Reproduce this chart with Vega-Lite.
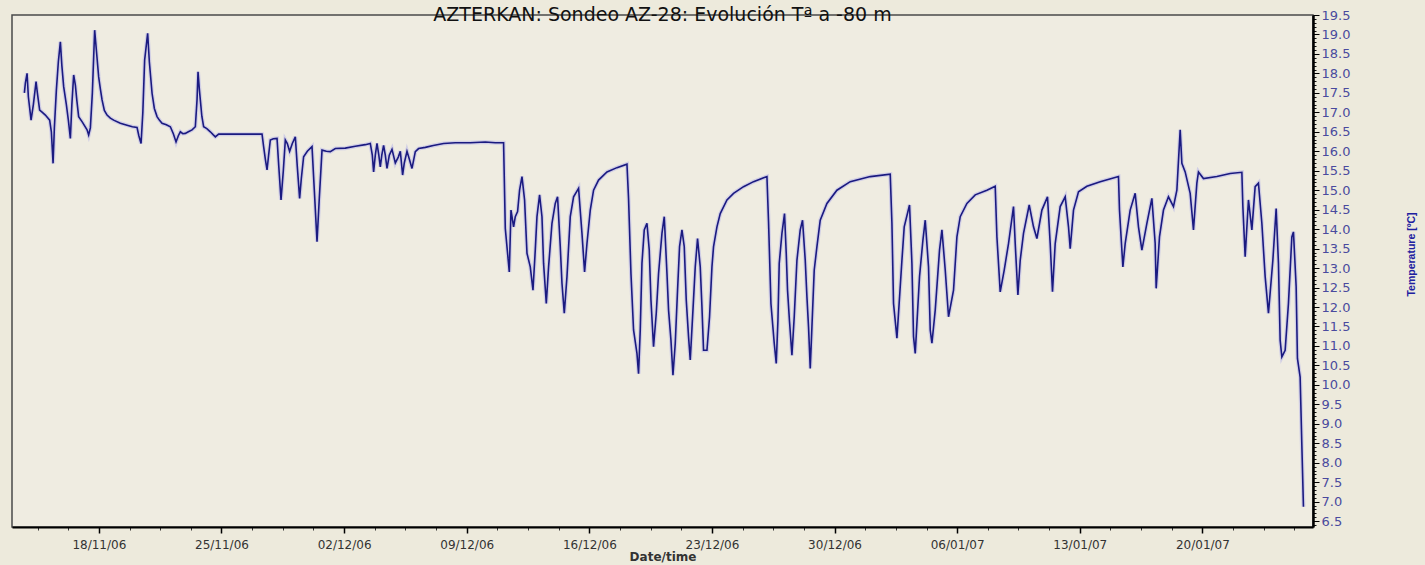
{
"$schema": "https://vega.github.io/schema/vega-lite/v6.json",
"width": 1301, "height": 512,
"autosize": {"type": "none"},
"padding": {"left": 12, "top": 15, "right": 112, "bottom": 38},
"background": "#EDEADC",
"config": {"view": {"fill": "#EFECE1", "stroke": "#4a4a4a", "strokeWidth": 1.5}},
"title": {"text": "AZTERKAN: Sondeo AZ-28: Evolución Tª a -80 m", "font": "DejaVu Sans", "fontSize": 19, "fontWeight": "normal", "color": "#111111", "anchor": "middle", "frame": "group", "baseline": "alphabetic", "offset": 3, "dy": 34},
"data": {"values": [
{"t":"2006-11-13T17:57","v":17.5},{"t":"2006-11-13T19:19","v":17.75},{"t":"2006-11-13T21:38","v":18.0},{"t":"2006-11-13T23:25","v":17.4},
{"t":"2006-11-14T03:07","v":16.8},{"t":"2006-11-14T06:16","v":17.2},{"t":"2006-11-14T09:58","v":17.79},{"t":"2006-11-14T11:45","v":17.5},
{"t":"2006-11-14T14:54","v":17.06},{"t":"2006-11-14T18:36","v":17.0},{"t":"2006-11-14T22:43","v":16.93},{"t":"2006-11-15T04:36","v":16.8},
{"t":"2006-11-15T06:56","v":16.5},{"t":"2006-11-15T09:16","v":15.69},{"t":"2006-11-15T11:02","v":16.6},{"t":"2006-11-15T13:47","v":17.57},
{"t":"2006-11-15T16:31","v":18.3},{"t":"2006-11-15T19:16","v":18.81},{"t":"2006-11-15T21:19","v":18.2},{"t":"2006-11-15T23:47","v":17.66},
{"t":"2006-11-16T03:29","v":17.2},{"t":"2006-11-16T06:13","v":16.8},{"t":"2006-11-16T08:58","v":16.33},{"t":"2006-11-16T11:01","v":17.2},
{"t":"2006-11-16T13:29","v":17.96},{"t":"2006-11-16T15:49","v":17.7},{"t":"2006-11-16T17:52","v":17.3},{"t":"2006-11-16T20:20","v":16.89},
{"t":"2006-11-17T01:24","v":16.75},{"t":"2006-11-17T07:50","v":16.55},{"t":"2006-11-17T10:02","v":16.42},{"t":"2006-11-17T12:22","v":16.6},
{"t":"2006-11-17T15:06","v":17.5},{"t":"2006-11-17T18:15","v":19.11},{"t":"2006-11-17T20:35","v":18.6},{"t":"2006-11-17T23:44","v":17.91},
{"t":"2006-11-18T02:03","v":17.6},{"t":"2006-11-18T04:23","v":17.32},{"t":"2006-11-18T07:32","v":17.05},{"t":"2006-11-18T11:14","v":16.93},
{"t":"2006-11-18T15:45","v":16.85},{"t":"2006-11-18T20:16","v":16.8},{"t":"2006-11-19T05:27","v":16.72},{"t":"2006-11-19T14:38","v":16.67},
{"t":"2006-11-19T21:53","v":16.63},{"t":"2006-11-20T04:20","v":16.61},{"t":"2006-11-20T06:47","v":16.4},{"t":"2006-11-20T09:49","v":16.2},
{"t":"2006-11-20T12:16","v":17.0},{"t":"2006-11-20T14:44","v":18.34},{"t":"2006-11-20T18:51","v":19.03},{"t":"2006-11-20T21:11","v":18.3},
{"t":"2006-11-21T00:53","v":17.49},{"t":"2006-11-21T04:02","v":17.1},{"t":"2006-11-21T07:44","v":16.89},{"t":"2006-11-21T10:53","v":16.8},
{"t":"2006-11-21T14:34","v":16.72},{"t":"2006-11-21T20:28","v":16.68},{"t":"2006-11-22T01:57","v":16.63},{"t":"2006-11-22T06:03","v":16.45},
{"t":"2006-11-22T09:45","v":16.24},{"t":"2006-11-22T12:54","v":16.4},{"t":"2006-11-22T15:38","v":16.5},{"t":"2006-11-22T19:04","v":16.45},
{"t":"2006-11-22T22:29","v":16.46},{"t":"2006-11-23T02:36","v":16.5},{"t":"2006-11-23T07:40","v":16.55},{"t":"2006-11-23T12:11","v":16.63},
{"t":"2006-11-23T14:31","v":17.32},{"t":"2006-11-23T15:53","v":18.04},{"t":"2006-11-23T17:40","v":17.6},{"t":"2006-11-23T19:02","v":17.32},
{"t":"2006-11-23T21:06","v":16.9},{"t":"2006-11-23T23:34","v":16.63},{"t":"2006-11-24T03:56","v":16.58},{"t":"2006-11-24T08:44","v":16.5},
{"t":"2006-11-24T12:51","v":16.42},{"t":"2006-11-24T15:35","v":16.37},{"t":"2006-11-24T20:07","v":16.44},{"t":"2006-11-26T01:50","v":16.44},
{"t":"2006-11-27T07:34","v":16.44},
{"t":"2006-11-27T09:45","v":16.12},{"t":"2006-11-27T12:05","v":15.8},{"t":"2006-11-27T14:25","v":15.52},{"t":"2006-11-27T16:36","v":15.9},
{"t":"2006-11-27T18:56","v":16.29},{"t":"2006-11-27T23:02","v":16.32},{"t":"2006-11-28T04:07","v":16.33},{"t":"2006-11-28T06:34","v":15.6},
{"t":"2006-11-28T09:35","v":14.75},{"t":"2006-11-28T12:44","v":15.5},{"t":"2006-11-28T15:29","v":16.29},{"t":"2006-11-28T18:13","v":16.2},
{"t":"2006-11-28T21:22","v":16.0},{"t":"2006-11-29T01:04","v":16.2},{"t":"2006-11-29T05:11","v":16.37},{"t":"2006-11-29T07:55","v":15.6},
{"t":"2006-11-29T11:04","v":14.79},{"t":"2006-11-29T13:24","v":15.3},{"t":"2006-11-29T16:33","v":15.86},{"t":"2006-11-29T21:37","v":16.0},
{"t":"2006-11-30T04:03","v":16.12},{"t":"2006-11-30T07:13","v":15.0},{"t":"2006-11-30T10:54","v":13.68},{"t":"2006-11-30T14:03","v":14.8},
{"t":"2006-11-30T17:45","v":16.03},{"t":"2006-11-30T23:38","v":16.0},{"t":"2006-12-01T05:07","v":15.99},{"t":"2006-12-01T11:58","v":16.07},
{"t":"2006-12-02T01:40","v":16.08},{"t":"2006-12-02T15:22","v":16.13},{"t":"2006-12-03T05:04","v":16.17},{"t":"2006-12-03T11:55","v":16.2},
{"t":"2006-12-03T14:40","v":15.9},{"t":"2006-12-03T16:26","v":15.47},{"t":"2006-12-03T18:46","v":15.9},{"t":"2006-12-03T21:05","v":16.2},
{"t":"2006-12-03T23:34","v":15.9},{"t":"2006-12-04T01:37","v":15.6},{"t":"2006-12-04T03:40","v":15.9},{"t":"2006-12-04T06:08","v":16.15},
{"t":"2006-12-04T08:28","v":15.9},{"t":"2006-12-04T10:47","v":15.56},{"t":"2006-12-04T13:57","v":15.9},{"t":"2006-12-04T17:38","v":16.05},
{"t":"2006-12-04T22:10","v":15.7},{"t":"2006-12-05T02:16","v":15.85},{"t":"2006-12-05T05:01","v":16.0},{"t":"2006-12-05T08:10","v":15.39},
{"t":"2006-12-05T10:29","v":15.7},{"t":"2006-12-05T14:11","v":16.0},{"t":"2006-12-05T17:20","v":15.8},{"t":"2006-12-05T21:02","v":15.56},
{"t":"2006-12-06T01:34","v":15.99},{"t":"2006-12-06T06:05","v":16.07},{"t":"2006-12-06T15:16","v":16.1},{"t":"2006-12-07T02:13","v":16.15},
{"t":"2006-12-07T16:20","v":16.2},{"t":"2006-12-08T08:22","v":16.22},{"t":"2006-12-09T04:54","v":16.22},{"t":"2006-12-10T01:27","v":16.24},
{"t":"2006-12-10T15:09","v":16.22},{"t":"2006-12-11T02:31","v":16.22},
{"t":"2006-12-11T04:51","v":14.02},{"t":"2006-12-11T10:20","v":12.9},{"t":"2006-12-11T12:40","v":14.49},{"t":"2006-12-11T16:13","v":14.06},
{"t":"2006-12-11T18:33","v":14.32},{"t":"2006-12-11T21:42","v":14.45},{"t":"2006-12-12T00:26","v":15.0},{"t":"2006-12-12T03:44","v":15.35},
{"t":"2006-12-12T07:17","v":14.75},{"t":"2006-12-12T10:35","v":13.38},{"t":"2006-12-12T15:05","v":13.03},{"t":"2006-12-12T18:47","v":12.43},
{"t":"2006-12-12T21:56","v":13.46},{"t":"2006-12-13T00:16","v":14.32},{"t":"2006-12-13T03:50","v":14.88},{"t":"2006-12-13T07:07","v":14.32},
{"t":"2006-12-13T09:19","v":13.12},{"t":"2006-12-13T13:01","v":12.09},{"t":"2006-12-13T16:10","v":13.03},{"t":"2006-12-13T20:49","v":14.15},
{"t":"2006-12-14T01:20","v":14.66},{"t":"2006-12-14T04:29","v":14.83},{"t":"2006-12-14T08:11","v":13.55},{"t":"2006-12-14T10:31","v":12.61},
{"t":"2006-12-14T13:40","v":11.84},{"t":"2006-12-14T17:22","v":12.78},{"t":"2006-12-14T21:53","v":14.32},{"t":"2006-12-15T02:25","v":14.83},
{"t":"2006-12-15T09:16","v":15.05},{"t":"2006-12-15T13:55","v":13.89},{"t":"2006-12-15T17:29","v":12.9},{"t":"2006-12-15T20:46","v":13.63},
{"t":"2006-12-16T01:17","v":14.49},{"t":"2006-12-16T05:48","v":15.0},{"t":"2006-12-16T12:39","v":15.26},{"t":"2006-12-17T00:10","v":15.47},
{"t":"2006-12-17T13:51","v":15.58},{"t":"2006-12-18T03:33","v":15.67},{"t":"2006-12-18T05:44","v":14.79},{"t":"2006-12-18T09:02","v":12.86},
{"t":"2006-12-18T12:35","v":11.41},{"t":"2006-12-18T17:15","v":10.81},{"t":"2006-12-18T19:26","v":10.29},{"t":"2006-12-18T21:46","v":11.41},
{"t":"2006-12-19T00:06","v":13.12},{"t":"2006-12-19T03:15","v":13.98},{"t":"2006-12-19T06:57","v":14.15},{"t":"2006-12-19T10:06","v":13.46},
{"t":"2006-12-19T12:26","v":12.18},{"t":"2006-12-19T15:59","v":10.98},{"t":"2006-12-19T19:42","v":11.84},{"t":"2006-12-19T22:51","v":12.86},
{"t":"2006-12-20T03:31","v":13.89},{"t":"2006-12-20T06:40","v":14.32},{"t":"2006-12-20T10:22","v":12.86},{"t":"2006-12-20T12:33","v":11.92},
{"t":"2006-12-20T15:50","v":11.15},{"t":"2006-12-20T18:35","v":10.25},{"t":"2006-12-20T21:44","v":11.07},{"t":"2006-12-21T00:52","v":12.43},
{"t":"2006-12-21T03:37","v":13.55},{"t":"2006-12-21T06:54","v":13.98},{"t":"2006-12-21T10:03","v":13.55},{"t":"2006-12-21T12:47","v":12.18},
{"t":"2006-12-21T15:56","v":11.24},{"t":"2006-12-21T18:16","v":10.64},{"t":"2006-12-21T21:58","v":11.92},{"t":"2006-12-22T01:07","v":13.03},
{"t":"2006-12-22T04:16","v":13.76},{"t":"2006-12-22T07:58","v":13.03},{"t":"2006-12-22T10:18","v":12.0},{"t":"2006-12-22T12:29","v":10.89},
{"t":"2006-12-22T17:09","v":10.89},{"t":"2006-12-22T20:43","v":11.75},{"t":"2006-12-23T00:00","v":13.03},{"t":"2006-12-23T02:11","v":13.55},
{"t":"2006-12-23T06:51","v":14.06},{"t":"2006-12-23T11:22","v":14.4},{"t":"2006-12-23T20:33","v":14.75},{"t":"2006-12-24T05:35","v":14.92},
{"t":"2006-12-24T19:17","v":15.09},{"t":"2006-12-25T08:59","v":15.22},{"t":"2006-12-26T03:20","v":15.35},{"t":"2006-12-26T05:32","v":14.19},
{"t":"2006-12-26T08:49","v":12.09},{"t":"2006-12-26T13:20","v":11.07},{"t":"2006-12-26T16:05","v":10.55},{"t":"2006-12-26T18:25","v":11.66},
{"t":"2006-12-26T20:11","v":13.12},{"t":"2006-12-26T23:53","v":13.89},{"t":"2006-12-27T03:26","v":14.4},{"t":"2006-12-27T05:47","v":13.38},
{"t":"2006-12-27T07:34","v":12.43},{"t":"2006-12-27T10:18","v":11.62},{"t":"2006-12-27T13:35","v":10.76},{"t":"2006-12-27T16:44","v":11.75},
{"t":"2006-12-27T20:26","v":13.2},{"t":"2006-12-28T00:57","v":13.98},{"t":"2006-12-28T04:07","v":14.23},{"t":"2006-12-28T07:49","v":13.2},
{"t":"2006-12-28T10:08","v":12.26},{"t":"2006-12-28T12:20","v":11.49},{"t":"2006-12-28T14:40","v":10.42},{"t":"2006-12-28T16:59","v":11.49},
{"t":"2006-12-28T20:08","v":12.95},{"t":"2006-12-28T23:50","v":13.55},{"t":"2006-12-29T04:21","v":14.23},{"t":"2006-12-29T13:32","v":14.66},
{"t":"2006-12-30T03:14","v":15.0},{"t":"2006-12-30T21:28","v":15.22},{"t":"2007-01-01T00:52","v":15.35},{"t":"2007-01-02T04:16","v":15.41},
{"t":"2007-01-02T06:35","v":14.15},{"t":"2007-01-02T08:47","v":12.09},{"t":"2007-01-02T13:26","v":11.2},{"t":"2007-01-02T20:17","v":13.2},
{"t":"2007-01-02T23:26","v":14.06},{"t":"2007-01-03T06:42","v":14.62},{"t":"2007-01-03T09:59","v":13.12},{"t":"2007-01-03T12:11","v":11.24},
{"t":"2007-01-03T14:31","v":10.81},{"t":"2007-01-03T20:24","v":12.78},{"t":"2007-01-04T01:04","v":13.72},{"t":"2007-01-04T04:13","v":14.23},
{"t":"2007-01-04T08:44","v":13.03},{"t":"2007-01-04T11:04","v":11.41},{"t":"2007-01-04T13:23","v":11.07},{"t":"2007-01-04T17:55","v":11.92},
{"t":"2007-01-04T23:48","v":13.46},{"t":"2007-01-05T03:05","v":13.98},{"t":"2007-01-05T07:37","v":12.95},{"t":"2007-01-05T12:08","v":11.75},
{"t":"2007-01-05T18:59","v":12.43},{"t":"2007-01-05T23:38","v":13.8},{"t":"2007-01-06T04:09","v":14.32},{"t":"2007-01-06T13:20","v":14.66},
{"t":"2007-01-07T00:42","v":14.88},{"t":"2007-01-07T16:44","v":15.0},{"t":"2007-01-08T04:06","v":15.1},{"t":"2007-01-08T06:26","v":13.8},
{"t":"2007-01-08T10:57","v":12.39},{"t":"2007-01-08T16:26","v":12.95},{"t":"2007-01-08T22:19","v":13.63},{"t":"2007-01-09T05:10","v":14.58},
{"t":"2007-01-09T07:30","v":13.63},{"t":"2007-01-09T11:12","v":12.31},{"t":"2007-01-09T14:21","v":13.2},{"t":"2007-01-09T18:52","v":13.89},
{"t":"2007-01-10T02:41","v":14.62},{"t":"2007-01-10T08:33","v":14.06},{"t":"2007-01-10T13:13","v":13.76},{"t":"2007-01-10T20:04","v":14.49},
{"t":"2007-01-11T03:44","v":14.83},{"t":"2007-01-11T07:26","v":13.63},{"t":"2007-01-11T10:35","v":12.39},{"t":"2007-01-11T14:17","v":13.63},
{"t":"2007-01-11T21:08","v":14.58},{"t":"2007-01-12T03:59","v":14.83},{"t":"2007-01-12T08:31","v":14.06},{"t":"2007-01-12T10:50","v":13.5},
{"t":"2007-01-12T15:22","v":14.49},{"t":"2007-01-12T22:13","v":14.96},{"t":"2007-01-13T09:43","v":15.1},{"t":"2007-01-14T03:56","v":15.22},
{"t":"2007-01-15T04:59","v":15.35},{"t":"2007-01-15T06:22","v":14.49},{"t":"2007-01-15T11:01","v":13.03},{"t":"2007-01-15T14:10","v":13.63},
{"t":"2007-01-15T21:01","v":14.49},{"t":"2007-01-16T03:52","v":14.92},{"t":"2007-01-16T08:23","v":14.06},{"t":"2007-01-16T13:03","v":13.46},
{"t":"2007-01-16T19:54","v":14.15},{"t":"2007-01-17T02:45","v":14.79},{"t":"2007-01-17T07:16","v":13.63},{"t":"2007-01-17T08:38","v":12.48},
{"t":"2007-01-17T13:10","v":13.8},{"t":"2007-01-17T18:38","v":14.49},{"t":"2007-01-18T01:29","v":14.83},{"t":"2007-01-18T08:20","v":14.58},
{"t":"2007-01-18T12:59","v":15.0},{"t":"2007-01-18T17:31","v":16.55},{"t":"2007-01-18T19:50","v":15.69},{"t":"2007-01-19T00:22","v":15.47},
{"t":"2007-01-19T07:13","v":14.92},{"t":"2007-01-19T11:44","v":13.98},{"t":"2007-01-19T16:23","v":15.18},{"t":"2007-01-19T18:35","v":15.47},
{"t":"2007-01-20T01:26","v":15.3},{"t":"2007-01-20T19:47","v":15.35},{"t":"2007-01-21T14:00","v":15.43},{"t":"2007-01-22T06:02","v":15.46},
{"t":"2007-01-22T07:24","v":14.58},{"t":"2007-01-22T10:33","v":13.29},{"t":"2007-01-22T15:04","v":14.75},{"t":"2007-01-22T19:44","v":13.98},
{"t":"2007-01-23T00:15","v":15.09},{"t":"2007-01-23T04:46","v":15.18},{"t":"2007-01-23T09:26","v":14.15},{"t":"2007-01-23T13:57","v":12.78},
{"t":"2007-01-23T18:28","v":11.84},{"t":"2007-01-24T00:30","v":13.2},{"t":"2007-01-24T05:01","v":14.53},{"t":"2007-01-24T08:10","v":13.12},
{"t":"2007-01-24T10:29","v":11.15},{"t":"2007-01-24T12:49","v":10.72},{"t":"2007-01-24T17:20","v":10.89},{"t":"2007-01-24T21:52","v":12.09},
{"t":"2007-01-25T02:31","v":13.8},{"t":"2007-01-25T04:43","v":13.93},{"t":"2007-01-25T08:25","v":12.52},{"t":"2007-01-25T10:11","v":10.68},
{"t":"2007-01-25T13:53","v":10.2},{"t":"2007-01-25T16:13","v":8.45},{"t":"2007-01-25T18:25","v":6.87}
]},
"layer": [
{
"mark": {"type": "line", "color": "#bdbbe8", "strokeWidth": 4, "opacity": 0.6},
"encoding": {
"x": {"field": "t", "type": "temporal",
"scale": {"domain": [{"year": 2006, "month": "nov", "date": 13, "hours": 1}, {"year": 2007, "month": "jan", "date": 26, "hours": 7, "minutes": 30}], "nice": false},
"axis": {"orient": "bottom", "title": null, "labels": false, "domain": false, "grid": false, "tickSize": 3, "tickColor": "#333333",
"values": [
{"year":2006,"month":"nov","date":14,"hours":12},{"year":2006,"month":"nov","date":16,"hours":6},{"year":2006,"month":"nov","date":19,"hours":18},{"year":2006,"month":"nov","date":21,"hours":12},{"year":2006,"month":"nov","date":23,"hours":6},
{"year":2006,"month":"nov","date":26,"hours":18},{"year":2006,"month":"nov","date":28,"hours":12},{"year":2006,"month":"nov","date":30,"hours":6},
{"year":2006,"month":"dec","date":3,"hours":18},{"year":2006,"month":"dec","date":5,"hours":12},{"year":2006,"month":"dec","date":7,"hours":6},
{"year":2006,"month":"dec","date":10,"hours":18},{"year":2006,"month":"dec","date":12,"hours":12},{"year":2006,"month":"dec","date":14,"hours":6},
{"year":2006,"month":"dec","date":17,"hours":18},{"year":2006,"month":"dec","date":19,"hours":12},{"year":2006,"month":"dec","date":21,"hours":6},
{"year":2006,"month":"dec","date":24,"hours":18},{"year":2006,"month":"dec","date":26,"hours":12},{"year":2006,"month":"dec","date":28,"hours":6},
{"year":2006,"month":"dec","date":31,"hours":18},{"year":2007,"month":"jan","date":2,"hours":12},{"year":2007,"month":"jan","date":4,"hours":6},
{"year":2007,"month":"jan","date":7,"hours":18},{"year":2007,"month":"jan","date":9,"hours":12},{"year":2007,"month":"jan","date":11,"hours":6},
{"year":2007,"month":"jan","date":14,"hours":18},{"year":2007,"month":"jan","date":16,"hours":12},{"year":2007,"month":"jan","date":18,"hours":6},
{"year":2007,"month":"jan","date":21,"hours":18},{"year":2007,"month":"jan","date":23,"hours":12},{"year":2007,"month":"jan","date":25,"hours":6}
]}},
"y": {"field": "v", "type": "quantitative",
"scale": {"domain": [6.35, 19.5], "nice": false, "zero": false},
"axis": {"orient": "right", "title": null, "labels": false, "domain": false, "grid": false, "tickSize": 3, "tickColor": "#111111", "tickCount": 130}}
}
},
{
"mark": {"type": "line", "color": "#1a1a80", "strokeWidth": 1.6},
"encoding": {
"x": {"field": "t", "type": "temporal",
"axis": {"orient": "bottom", "format": "%d/%m/%y", "labelFont": "DejaVu Sans", "labelFontSize": 12, "labelColor": "#333333", "labelPadding": 6, "labelFlush": false, "labelOverlap": false,
"tickSize": 6, "tickColor": "#000000", "tickWidth": 1.5, "domainColor": "#000000", "domainWidth": 2, "grid": false,
"title": "Date/time", "titleFont": "DejaVu Sans", "titleFontSize": 12, "titleFontWeight": "bold", "titleColor": "#333333", "titlePadding": 1,
"values": [
{"year":2006,"month":"nov","date":18},{"year":2006,"month":"nov","date":25},{"year":2006,"month":"dec","date":2},{"year":2006,"month":"dec","date":9},
{"year":2006,"month":"dec","date":16},{"year":2006,"month":"dec","date":23},{"year":2006,"month":"dec","date":30},{"year":2007,"month":"jan","date":6},
{"year":2007,"month":"jan","date":13},{"year":2007,"month":"jan","date":20}
]}},
"y": {"field": "v", "type": "quantitative",
"axis": {"orient": "right", "format": ".1f", "labelFont": "DejaVu Sans", "labelFontSize": 13, "labelColor": "#4a4a9e", "labelPadding": 2, "labelOverlap": false,
"tickSize": 6, "tickColor": "#000000", "domainColor": "#000000", "domainWidth": 2.5, "grid": false,
"values": [6.5,7,7.5,8,8.5,9,9.5,10,10.5,11,11.5,12,12.5,13,13.5,14,14.5,15,15.5,16,16.5,17,17.5,18,18.5,19,19.5],
"title": "Temperature [ºC]", "titleFont": "Liberation Sans Narrow, Liberation Sans, sans-serif", "titleFontSize": 10.5, "titleFontWeight": "bold", "titleColor": "#2020a0",
"titleAngle": 270, "titleAlign": "center", "titleBaseline": "middle", "titleX": 98, "titleY": 239}}
}
}
],
"resolve": {"axis": {"x": "independent", "y": "independent"}}
}
